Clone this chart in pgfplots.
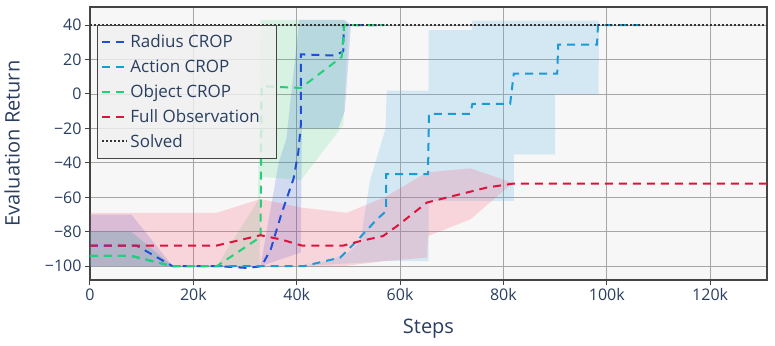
\documentclass[border=0pt]{standalone}
\usepackage{fontspec}
\setmainfont{Open Sans}
\usepackage{pgfplots}
\pgfplotsset{compat=1.18}
\definecolor{txt}{HTML}{2A3F5F}
\definecolor{cRadius}{HTML}{1F4FD8}
\definecolor{cAction}{HTML}{1C9AD6}
\definecolor{cObject}{HTML}{22D077}
\definecolor{cFull}{HTML}{DC143C}
\definecolor{bAction}{HTML}{5BB5EA}
\definecolor{bFull}{HTML}{FF3860}
\definecolor{frame}{HTML}{444444}
\definecolor{bg}{HTML}{F7F7F7}

\begin{document}
\begin{tikzpicture}
\begin{axis}[
  at={(0,0)}, anchor=south west,
  scale only axis, width=677pt, height=273pt,
  xmin=0, xmax=131000, ymin=-108, ymax=50.5,
  axis background/.style={fill=bg},
  axis line style={frame, line width=1.2pt},
  xtick={0,20000,40000,60000,80000,100000,120000},
  xticklabels={0,20k,40k,60k,80k,100k,120k},
  ytick={-100,-80,-60,-40,-20,0,20,40},
  yticklabels={−100,−80,−60,−40,−20,0,20,40},
  scaled x ticks=false,
  tick align=outside, tick pos=left, major tick length=5pt,
  tick style={frame, line width=1pt},
  grid=major, grid style={gray!70, line width=0.8pt},
  ticklabel style={font=\fontsize{16}{19}\selectfont, text=txt},
  xlabel={Steps}, ylabel={Evaluation Return},
  label style={font=\fontsize{20}{24}\selectfont, text=txt},
  xlabel style={at={(axis description cs:0.5,-0.1795)}, anchor=center},
  ylabel style={at={(axis description cs:-0.1152,0.5)}, anchor=center, rotate=0},
  legend style={at={(axis description cs:0.0103,0.934)}, anchor=north west,
    fill=gray!12, fill opacity=0.8, text opacity=1, draw=frame, line width=1pt,
    font=\fontsize{17}{20}\selectfont, text=txt, row sep=6.5pt,
    inner xsep=4pt, inner ysep=7.5pt, cells={anchor=west}},
  legend image code/.code={\draw[#1] (0pt,0pt) -- (25pt,0pt);},
  every axis plot/.append style={line width=2pt, dash pattern=on 8pt off 6pt},
]
% bands
\addplot[draw=none, fill=cRadius, fill opacity=0.17, forget plot] coordinates {
  (0,-70) (8000,-70) (16000,-100) (33000,-100) (36500,-40) (38000,-26) (40500,43)
  (49300,43) (50500,40) (56000,40)
  (50500,40) (49300,-10) (48000,-20) (41000,-20) (40800,-92) (33000,-100) (0,-100)
} -- cycle;
\addplot[draw=none, fill=bAction, fill opacity=0.22, forget plot] coordinates {
  (0,-80) (8000,-80) (16000,-100) (41000,-100) (46000,-97) (50000,-92) (52300,-86)
  (54200,-50) (57200,-20) (57400,2) (65500,2) (65500,37) (73900,37) (73900,42.6)
  (98400,42.6) (98500,40) (106500,40)
  (98500,40) (98400,0) (90000,0) (90000,-35) (82000,-35) (82000,-62) (65500,-62)
  (65500,-97) (57400,-97) (41000,-100) (0,-100)
} -- cycle;
\addplot[draw=none, fill=cObject, fill opacity=0.15, forget plot] coordinates {
  (0,-80) (8000,-80) (16000,-100) (24500,-100) (32500,-62) (33000,43) (49000,43)
  (50000,40) (57000,40)
  (50000,40) (49000,-18) (40800,-50) (33000,-48) (32800,-100) (0,-100)
} -- cycle;
\addplot[draw=none, fill=bFull, fill opacity=0.18, forget plot] coordinates {
  (0,-69) (24500,-69) (33000,-61) (41000,-66) (49700,-69) (57000,-60) (65200,-45.5)
  (73600,-43.2) (81300,-51) (82500,-52) (131000,-52)
  (82500,-52) (81300,-53) (73600,-72.8) (65400,-82.5) (65200,-95) (57000,-97)
  (49000,-100) (0,-100)
} -- cycle;
% mean curves
\addplot[color=cRadius] coordinates {
  (0,-88) (9000,-88) (16000,-100) (25000,-100) (30400,-101) (33200,-100) (35000,-90)
  (37000,-70) (39400,-49) (40300,-34) (40800,-18) (40800,23) (47400,22.3) (49000,24.8)
  (49100,40) (56000,40)
};
\addlegendentry{Radius CROP}
\addplot[color=cAction] coordinates {
  (0,-94) (8000,-94) (16000,-100) (41300,-100) (48400,-95) (51600,-85.4) (55500,-72.8)
  (57300,-68) (57300,-46.5) (65400,-46.5) (65600,-11.5) (73600,-11.5) (74000,-5.7)
  (81300,-5.7) (82000,11.8) (90400,11.8) (90600,28.6) (98100,28.6) (98300,40) (106500,40)
};
\addlegendentry{Action CROP}
\addplot[color=cObject] coordinates {
  (0,-94) (8000,-94) (16000,-100) (24500,-100) (33000,-83) (33200,4.5) (40800,3.5)
  (48700,21.5) (49200,40) (57000,40)
};
\addlegendentry{Object CROP}
\addplot[color=cFull] coordinates {
  (0,-88) (24500,-88) (33000,-82) (37000,-84.5) (41000,-88) (49000,-88) (52300,-85.4)
  (56700,-82.5) (59400,-76.7) (65200,-63) (71600,-58.2) (76800,-54.3) (82000,-52)
  (131000,-52)
};
\addlegendentry{Full Observation\rule{11pt}{0pt}}
\addplot[color=black!80, dash pattern=on 2pt off 2pt] coordinates {(0,40) (131000,40)};
\addlegendentry{Solved}
\end{axis}
\path[use as bounding box] (-90pt,-65pt) rectangle (685pt,280pt);
\end{tikzpicture}
\end{document}
